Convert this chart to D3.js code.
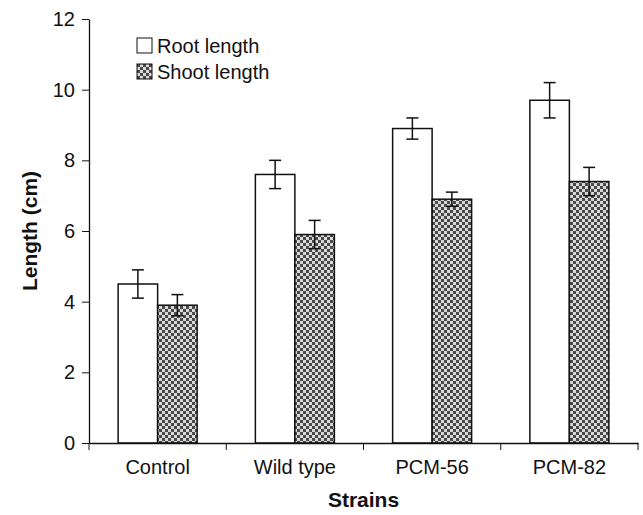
<!DOCTYPE html>
<html>
<head>
<meta charset="utf-8">
<script src="https://cdn.jsdelivr.net/npm/d3@7"></script>
<style>
  body { margin: 0; background: #fff; }
  svg { font-family: "Liberation Sans", Arial, sans-serif; }
</style>
</head>
<body>
<div id="chart"></div>
<script>
var strains = ["Control", "Wild type", "PCM-56", "PCM-82"];
var rootLength = [4.5, 7.6, 8.9, 9.7];
var rootErr = [0.4, 0.4, 0.3, 0.5];
var shootLength = [3.9, 5.9, 6.9, 7.4];
var shootErr = [0.3, 0.4, 0.2, 0.4];
var yTicks = [0, 2, 4, 6, 8, 10, 12];
var seriesNames = ["Root length", "Shoot length"];

var chart_width = 643,
	chart_height = 515;

var margin = {top: 19, left: 89, right: 5, bottom: 72};

var svg = d3.select("#chart")
	.append("svg")
		.attr("width", chart_width)
		.attr("height", chart_height);

// checker pattern for shoot bars
var defs = svg.append("defs");
var pat = defs.append("pattern")
	.attr("id", "checker")
	.attr("patternUnits", "userSpaceOnUse")
	.attr("width", 6)
	.attr("height", 6);
pat.append("rect").attr("width", 6).attr("height", 6).attr("fill", "#d8d8d8");
pat.append("rect").attr("width", 3).attr("height", 3).attr("fill", "#4a4a4a");
pat.append("rect").attr("x", 3).attr("y", 3).attr("width", 3).attr("height", 3).attr("fill", "#4a4a4a");

var x = d3.scaleBand()
	.domain(strains)
	.range([margin.left, chart_width - margin.right])
	.paddingInner(0)
	.paddingOuter(0);

var y = d3.scaleLinear()
	.domain([0, 12])
	.range([chart_height - margin.bottom, margin.top]);

var barW = 39.5;

var data = strains.map(function(s, i) {
	return [
		{strain: s, key: "root", v: rootLength[i], e: rootErr[i], off: -barW},
		{strain: s, key: "shoot", v: shootLength[i], e: shootErr[i], off: 0}
	];
});

var groups = svg.selectAll("g.grp")
	.data(data)
	.enter()
	.append("g")
	.attr("class", "grp");

groups.selectAll("rect")
	.data(function(d) { return d; })
	.enter()
	.append("rect")
	.attr("x", function(d) { return x(d.strain) + x.bandwidth() / 2 + d.off; })
	.attr("y", function(d) { return y(d.v); })
	.attr("width", barW)
	.attr("height", function(d) { return y(0) - y(d.v); })
	.attr("fill", function(d) { return d.key == "root" ? "#fff" : "url(#checker)"; })
	.attr("stroke", "#111")
	.attr("stroke-width", 1.5);

// error bars
var err = groups.selectAll("g.err")
	.data(function(d) { return d; })
	.enter()
	.append("g")
	.attr("class", "err")
	.attr("stroke", "#111")
	.attr("stroke-width", 1.5);

function cx(d) { return x(d.strain) + x.bandwidth() / 2 + d.off + barW / 2; }

err.append("line")
	.attr("x1", cx).attr("x2", cx)
	.attr("y1", function(d) { return y(d.v + d.e); })
	.attr("y2", function(d) { return y(d.v - d.e); });
err.append("line")
	.attr("x1", function(d) { return cx(d) - 6; })
	.attr("x2", function(d) { return cx(d) + 6; })
	.attr("y1", function(d) { return y(d.v + d.e); })
	.attr("y2", function(d) { return y(d.v + d.e); });
err.append("line")
	.attr("x1", function(d) { return cx(d) - 6; })
	.attr("x2", function(d) { return cx(d) + 6; })
	.attr("y1", function(d) { return y(d.v - d.e); })
	.attr("y2", function(d) { return y(d.v - d.e); });

// axes
var yAxis = svg.append("g")
	.attr("transform", "translate(" + margin.left + ",0)")
	.call(d3.axisLeft(y).tickValues(yTicks).tickSize(7).tickSizeOuter(0).tickPadding(7));

var xAxis = svg.append("g")
	.attr("transform", "translate(0," + y(0) + ")")
	.call(d3.axisBottom(x).tickSize(0).tickPadding(17));

// category boundary ticks
xAxis.selectAll("line.sep")
	.data(strains.concat(["end"]))
	.enter()
	.append("line")
	.attr("class", "sep")
	.attr("x1", function(d, i) { return margin.left + i * x.step(); })
	.attr("x2", function(d, i) { return margin.left + i * x.step(); })
	.attr("y1", 0)
	.attr("y2", 7)
	.attr("stroke", "#111");

svg.selectAll(".domain").attr("stroke", "#111").attr("stroke-width", 1.3);
svg.selectAll(".tick line").attr("stroke", "#111");
svg.selectAll(".tick text")
	.attr("font-size", 20)
	.attr("fill", "#111")
	.attr("font-family", "Liberation Sans, Arial, sans-serif");

// axis titles
svg.append("text")
	.text("Length (cm)")
	.attr("transform", "translate(37," + ((y(0) + y(12)) / 2) + ") rotate(-90)")
	.attr("text-anchor", "middle")
	.attr("font-size", 21)
	.attr("font-weight", "bold")
	.attr("fill", "#111");

svg.append("text")
	.text("Strains")
	.attr("x", (x.range()[0] + x.range()[1]) / 2)
	.attr("y", 507)
	.attr("text-anchor", "middle")
	.attr("font-size", 21)
	.attr("font-weight", "bold")
	.attr("fill", "#111");

// legend
var legend = svg.selectAll("g.legend")
	.data(seriesNames)
	.enter()
	.append("g")
	.attr("class", "legend")
	.attr("transform", function(d, i) { return "translate(137," + (38 + i * 26) + ")"; });

legend.append("rect")
	.attr("width", 15)
	.attr("height", 15)
	.attr("fill", function(d, i) { return i == 0 ? "#fff" : "url(#checker)"; })
	.attr("stroke", "#111")
	.attr("stroke-width", 1);

legend.append("text")
	.text(function(d) { return d; })
	.attr("x", 20)
	.attr("y", 14.5)
	.attr("font-size", 20)
	.attr("fill", "#111");
</script>
</body>
</html>
